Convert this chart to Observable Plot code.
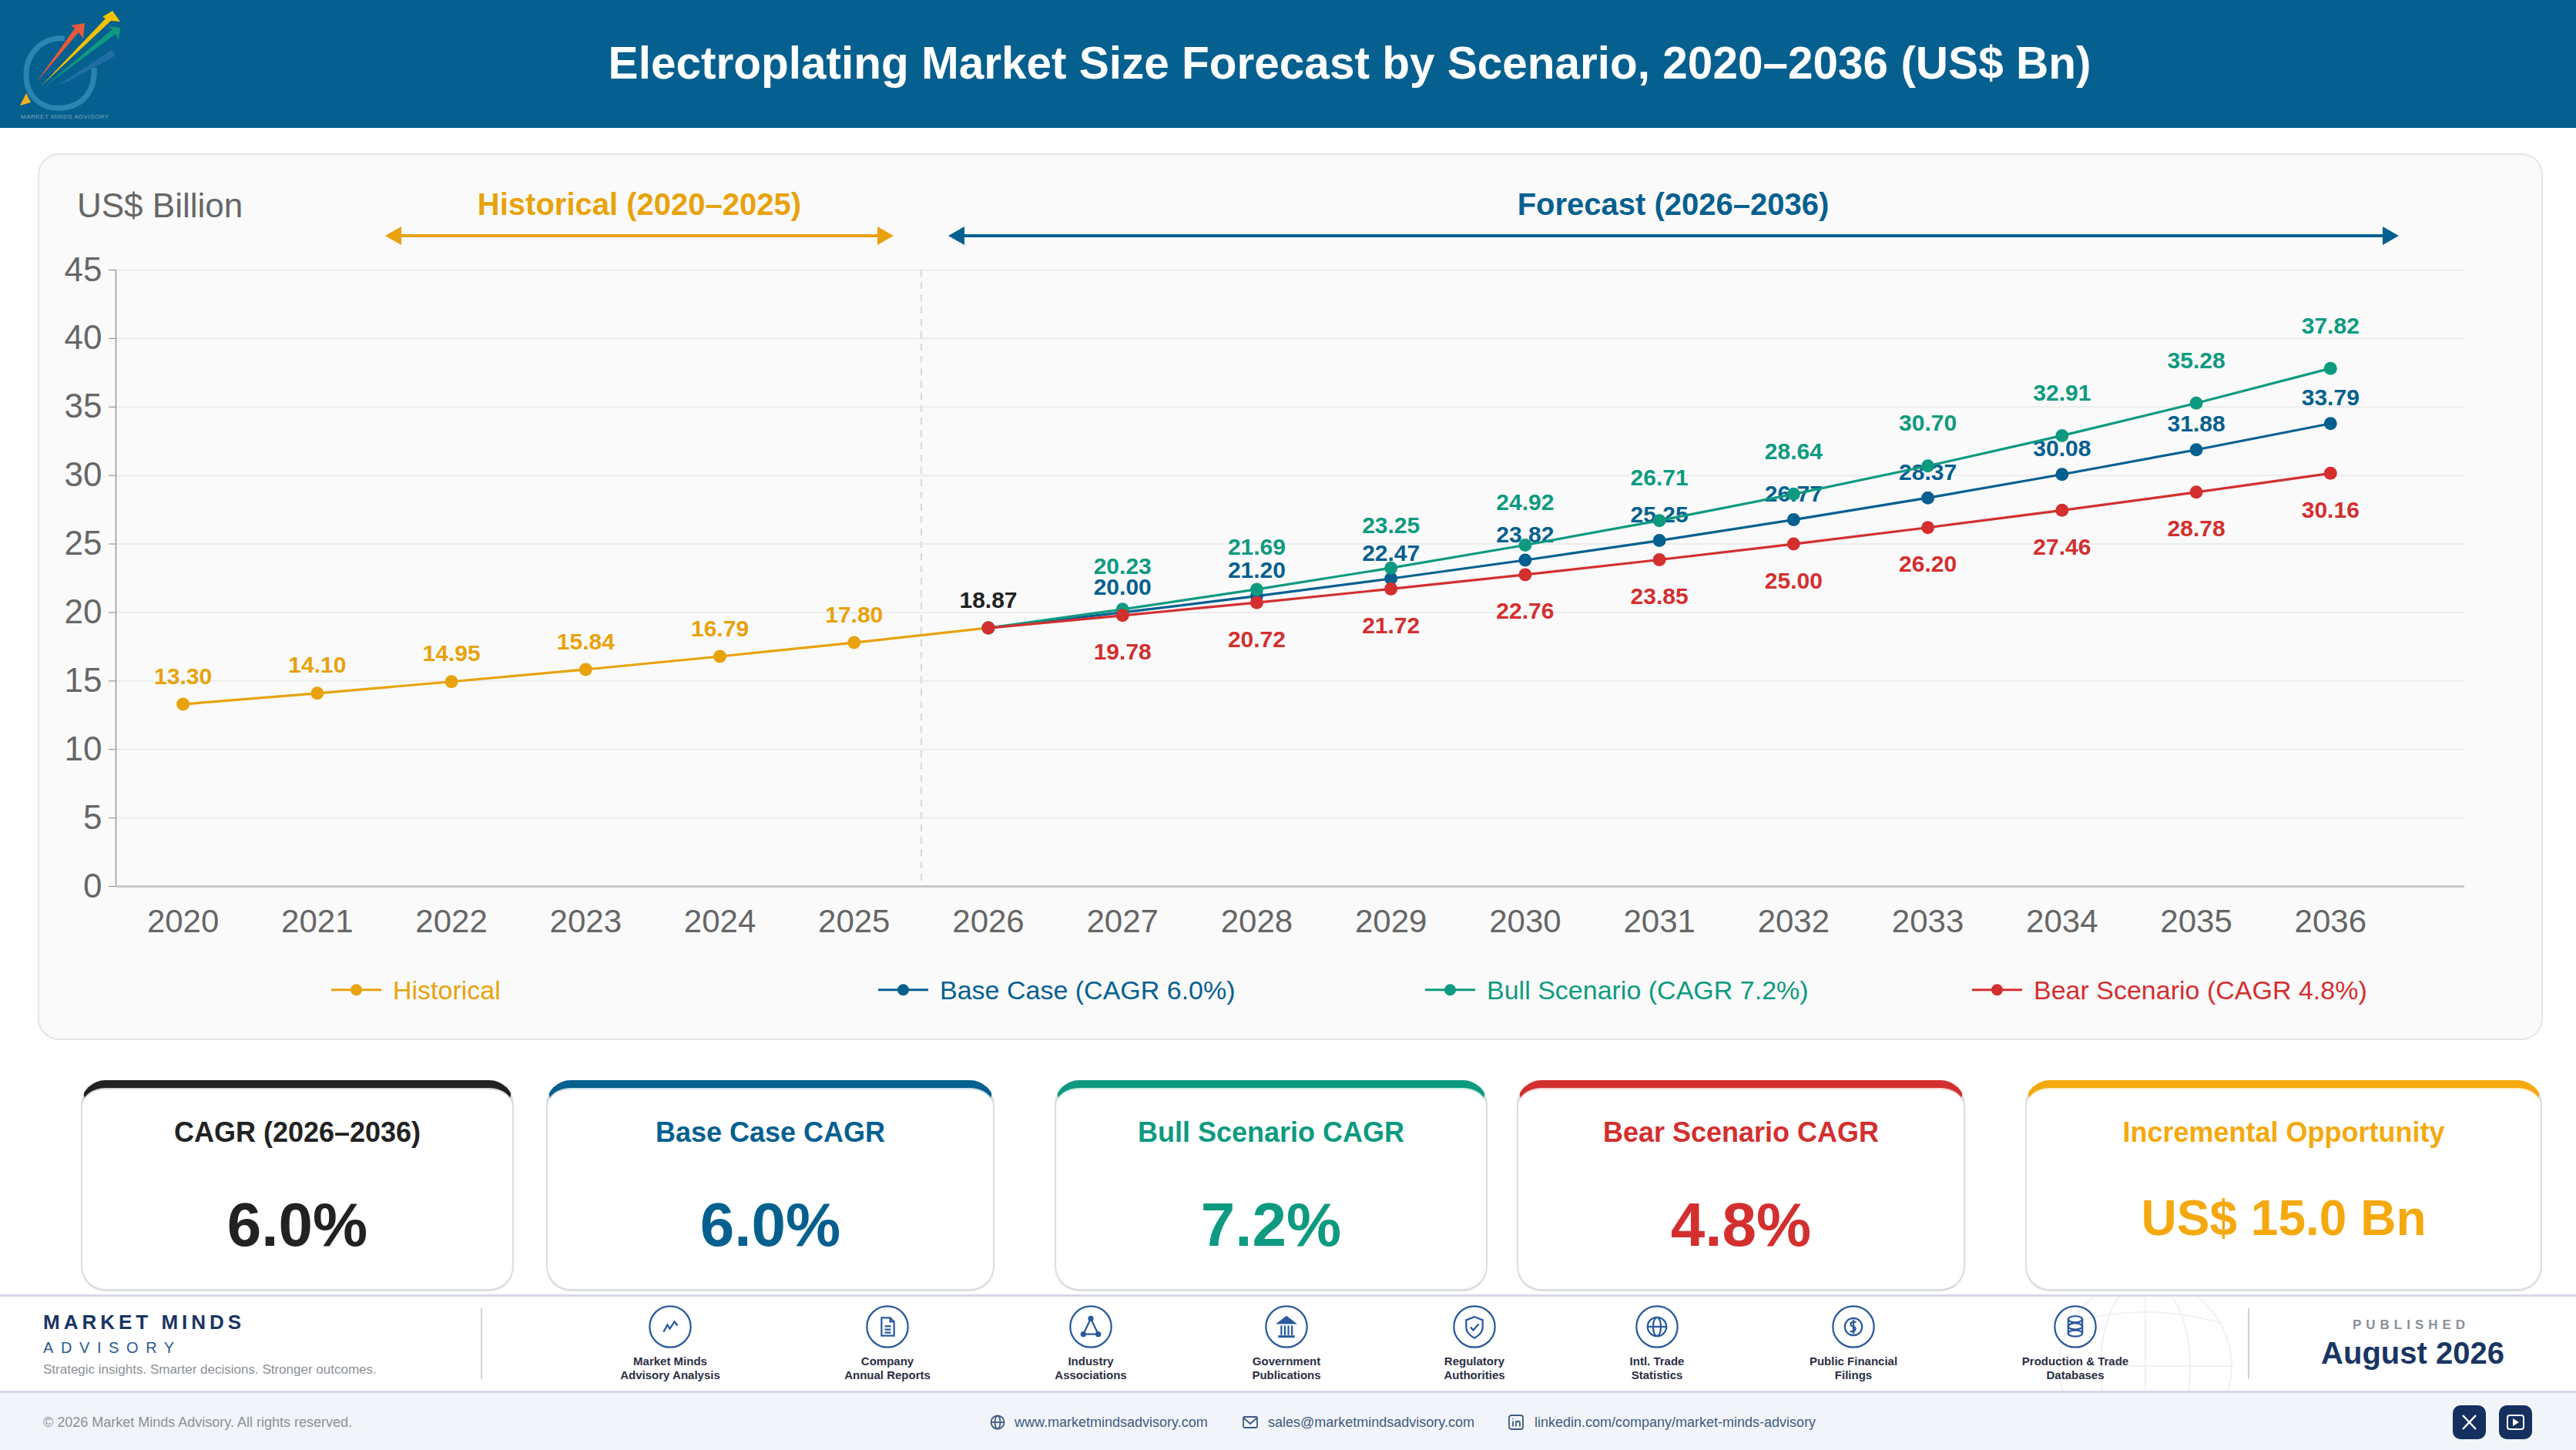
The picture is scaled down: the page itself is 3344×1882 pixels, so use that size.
<!DOCTYPE html>
<html><head><meta charset="utf-8">
<script src="https://cdn.jsdelivr.net/npm/d3@7"></script>
<script src="https://cdn.jsdelivr.net/npm/@observablehq/plot@0.6"></script>
<style>
*{box-sizing:border-box}
html,body{margin:0;padding:0;background:#fff}
body{font-family:"Liberation Sans",Arial,sans-serif}
#page{position:relative;width:3344px;height:1882px;overflow:hidden;background:#fff}
.abs{position:absolute}
.c{transform:translate(-50%,-50%);white-space:nowrap;text-align:center}
.m{transform:translateY(-50%);white-space:nowrap}
.kpi{top:1402px;height:274px;background:#fff;border-radius:32px;border:2px solid #dcdde0;border-top-width:10px;border-bottom-width:3px}
.src{font-weight:700;font-size:15px;line-height:18px;color:#2b2f44;text-align:center;white-space:nowrap;transform:translateX(-50%)}
.ct{font-size:18px;color:#3d5a80}
.leg{font-size:34px;top:1284px}
</style></head><body>
<div id="page"></div>
<script>
const years = [2020,2021,2022,2023,2024,2025,2026,2027,2028,2029,2030,2031,2032,2033,2034,2035,2036];
const historicalYears = [2020,2021,2022,2023,2024,2025,2026];
const historicalValues = [13.30,14.10,14.95,15.84,16.79,17.80,18.87];
const scenarioYears = [2026,2027,2028,2029,2030,2031,2032,2033,2034,2035,2036];
const baseValues = [18.87,20.00,21.20,22.47,23.82,25.25,26.77,28.37,30.08,31.88,33.79];
const bullValues = [18.87,20.23,21.69,23.25,24.92,26.71,28.64,30.70,32.91,35.28,37.82];
const bearValues = [18.87,19.78,20.72,21.72,22.76,23.85,25.00,26.20,27.46,28.78,30.16];
const yTicks = [0,5,10,15,20,25,30,35,40,45];
const colors = {hist:"#e8a20c",base:"#05608f",bull:"#0e9a80",bear:"#d32f2f",anchor:"#222222",gold:"#f4a90f"};
const legendItems = [["Historical",colors.hist,430],["Base Case (CAGR 6.0%)",colors.base,1140],["Bull Scenario (CAGR 7.2%)",colors.bull,1850],["Bear Scenario (CAGR 4.8%)",colors.bear,2560]];
const kpis = [
 ["CAGR (2026–2036)","6.0%",colors.anchor,105,667,80,1590],
 ["Base Case CAGR","6.0%",colors.base,709,1291,80,1590],
 ["Bull Scenario CAGR","7.2%",colors.bull,1369,1931,80,1590],
 ["Bear Scenario CAGR","4.8%",colors.bear,1969,2551,80,1590],
 ["Incremental Opportunity","US$ 15.0 Bn",colors.gold,2629,3300,64,1581]];
const sources = [
 ["Market Minds","Advisory Analysis",870],["Company","Annual Reports",1152],["Industry","Associations",1416],
 ["Government","Publications",1670],["Regulatory","Authorities",1914],["Intl. Trade","Statistics",2151],
 ["Public Financial","Filings",2406],["Production & Trade","Databases",2694]];
const iconPaths = [
 '<polyline points="19,34 24,25 27,30 33,21 37,26"/>',
 '<path d="M20 16h11l5 5v18H20z"/><path d="M31 16v5h5M24 27h8M24 31h8M24 35h8"/>',
 '<path d="M27.5 17L18 37H37z"/><circle cx="27.5" cy="17" r="2.5" fill="#2a5a9a"/><circle cx="18" cy="37" r="2.5" fill="#2a5a9a"/><circle cx="37" cy="37" r="2.5" fill="#2a5a9a"/>',
 '<path d="M17 23L27.5 15L38 23z" fill="#2a5a9a"/><path d="M21 26v12M25.5 26v12M30 26v12M34.500 26v12"/><path d="M17 40h21" stroke-width="3"/>',
 '<path d="M27.500 15L38 19V28C38 35 33 39 27.500 42C22 39 17 35 17 28V19z"/><polyline points="22.500,28 26,32 33,24"/>',
 '<circle cx="27.5" cy="27.5" r="12"/><ellipse cx="27.5" cy="27.5" rx="5" ry="12"/><path d="M15.500 27.500h24"/>',
 '<circle cx="27.500" cy="27.500" r="11"/><path d="M31 21.500h-4c-4 0-4 5 0 5.500c4 .5 4 6 0 6.500h-4M27.500 18.500v18"/>',
 '<ellipse cx="27.500" cy="18" rx="9" ry="4"/><ellipse cx="27.500" cy="27" rx="9" ry="4"/><ellipse cx="27.500" cy="36" rx="9" ry="4"/><path d="M18.500 18v18M36.500 18v18"/>'];
const page = document.getElementById("page");
function add(cls, css, html){const d=document.createElement("div");d.className="abs "+cls;d.style.cssText=css;d.innerHTML=html||"";page.appendChild(d);return d;}

add("","left:0;top:0;width:3344px;height:166px;background:#05608f");
add("c","left:1752px;top:81px;color:#fff;font-weight:700;font-size:58.5px","Electroplating Market Size Forecast by Scenario, 2020–2036 (US$ Bn)");
add("","left:0;top:0;width:170px;height:166px",`<svg width="170" height="166" viewBox="0 0 170 166">
<path d="M84 50C52 48 33 72 34 100C35 126 55 143 82 140C108 137 124 118 122 88" fill="none" stroke="#2a86b0" stroke-width="7"/>
<polygon points="76,110 145,65 150,72 90,105" fill="#1f6fa3"/>
<polygon points="47,107 97,37 92,33 110,30 108,50 102,42" fill="#e8593a"/>
<polygon points="57,113 146,38 140,34 156,36 154,52 150,44" fill="#0e9a80"/>
<polygon points="53,112 137,24 133,22 146,14 156,28 144,27" fill="#f2c200"/>
<polygon points="26,137 34,121 40,133" fill="#f2b21c"/>
<text x="27" y="154" font-family="Liberation Sans" font-size="8" letter-spacing=".5" fill="#7fa0b8">MARKET MINDS ADVISORY</text></svg>`);

add("","left:49px;top:199px;width:3252px;height:1151px;background:#fafafa;border:2.5px solid #e3e4e6;border-radius:28px");
add("m","left:100px;top:267px;font-size:44px;color:#666","US$ Billion");
add("c","left:830px;top:265px;font-weight:700;font-size:40px;color:"+colors.hist,"Historical (2020–2025)");
add("c","left:2172px;top:265px;font-weight:700;font-size:40px;color:"+colors.base,"Forecast (2026–2036)");
function arrow(x1,x2,col){
  add("","left:"+x1+"px;top:294px;width:"+(x2-x1)+"px;height:24px",`<svg width="${x2-x1}" height="24" style="display:block"><path d="M0 12L21 0V10H${x2-x1-21}V0L${x2-x1} 12L${x2-x1-21} 24V14H21V24z" fill="${col}"/></svg>`);
}
arrow(500,1160,colors.hist); arrow(1231,3114,colors.base);

const rows = (xs,vs)=>xs.map((year,i)=>({year,value:vs[i]}));
const fmt = d=>d.value.toFixed(2);
const hist = rows(historicalYears,historicalValues);
const histLabeled = hist.slice(0,6), anchor = hist.slice(6);
const base = rows(scenarioYears,baseValues), bull = rows(scenarioYears,bullValues), bear = rows(scenarioYears,bearValues);
const labelFont = {fontSize:30,fontWeight:700,stroke:"none"};
function series(data,col,dy,labelled=data.slice(1)){
  return [
    Plot.line(data,{x:"year",y:"value",stroke:col,strokeWidth:3.2}),
    Plot.dot(data,{x:"year",y:"value",fill:col,r:8.5,stroke:"none"}),
    Plot.text(labelled,{x:"year",y:"value",text:fmt,fill:col,dy,...labelFont})
  ];
}
const chart = Plot.plot({
  width:3344,height:1150,
  marginTop:151,marginBottom:199,marginLeft:150,marginRight:145,
  x:{domain:[2019.5,2037],type:"linear"},
  y:{domain:[0,45]},
  style:{background:"transparent",position:"absolute",left:"0",top:"199px",fontFamily:"Liberation Sans",overflow:"visible"},
  marks:[
    Plot.ruleY(yTicks.slice(1),{stroke:"#ececec",strokeWidth:2}),
    Plot.ruleX([2025.5],{stroke:"#d9d9d9",strokeWidth:2,strokeDasharray:"9,7"}),
    Plot.ruleX([2019.5],{stroke:"#999",strokeWidth:1.5}),
    Plot.ruleY([0],{stroke:"#c8c8c8",strokeWidth:3}),
    Plot.axisY({ticks:yTicks,tickSize:9,tickPadding:9,fontSize:44,color:"#666",stroke:"#888",label:null,fill:"#666",marginLeft:150}),
    Plot.axisX({ticks:years,tickSize:0,tickPadding:30,fontSize:42,fill:"#666",label:null,tickFormat:d=>String(d)}),
    ...series(hist,colors.hist,-36,histLabeled),
    Plot.text(anchor,{x:"year",y:"value",text:fmt,fill:colors.anchor,dy:-36,...labelFont}),
    ...series(base,colors.base,-33),
    ...series(bull,colors.bull,-55),
    ...series(bear,colors.bear,48)
  ]
});
page.appendChild(chart);

legendItems.forEach(([t,col,x])=>{
  add("m leg","left:"+x+"px;color:"+col,`<span style="display:inline-flex;align-items:center"><svg width="65" height="20" style="margin-right:15px"><line x1="0" x2="65" y1="10" y2="10" stroke="${col}" stroke-width="3.2"/><circle cx="32.500" cy="10" r="7.5" fill="${col}"/></svg>${t}</span>`);
});

kpis.forEach(([t,v,col,x1,x2,fs,vy])=>{
  add("kpi","left:"+x1+"px;width:"+(x2-x1)+"px;border-top-color:"+col+";box-shadow:inset 0 2px 0 "+col+"33");
  add("c","left:"+((x1+x2)/2)+"px;top:1470px;font-weight:700;font-size:36px;color:"+col,t);
  add("c","left:"+((x1+x2)/2)+"px;top:"+vy+"px;font-weight:700;font-size:"+fs+"px;color:"+col,v);
});

add("","left:0;top:1680px;width:3344px;height:128px;background:#fff;border-top:3px solid #d5d8e6;border-bottom:3px solid #d5d8e6");
add("","left:0;top:1808px;width:3344px;height:74px;background:#f1f4f9");
add("","left:2660px;top:1683px;width:250px;height:122px;overflow:hidden",`<svg width="250" height="122" viewBox="0 0 250 122" fill="none" stroke="#eff1f5" stroke-width="2"><circle cx="125" cy="90" r="112"/><ellipse cx="125" cy="90" rx="58" ry="112"/><path d="M125 -22v224M13 90h224"/><path d="M28 34q97 -28 194 0"/></svg>`);
add("m","left:56px;top:1716px;font-weight:700;font-size:26px;letter-spacing:5px;color:#1a3563","MARKET MINDS");
add("m","left:56px;top:1749px;font-size:20px;letter-spacing:9.6px;color:#2b5c8f","ADVISORY");
add("m","left:56px;top:1778px;font-size:17px;color:#8a8f98","Strategic insights. Smarter decisions. Stronger outcomes.");
add("","left:624px;top:1698px;width:2px;height:92px;background:#cfd2da");
add("","left:2918px;top:1698px;width:2px;height:92px;background:#cfd2da");
sources.forEach(([a,b,x],i)=>{
  add("","left:"+(x-28)+"px;top:1694px;width:56px;height:56px",`<svg width="56" height="56" viewBox="0 0 55 55" fill="none" stroke="#2a5a9a" stroke-width="2.200"><circle cx="27.500" cy="27.500" r="26.200"/>${iconPaths[i]}</svg>`);
  add("src","left:"+x+"px;top:1758px",(a+"<br>"+b).replace("&","&amp;"));
});
add("c","left:3130px;top:1720px;font-weight:700;font-size:17px;letter-spacing:6px;color:#8a8f98","PUBLISHED");
add("c","left:3132px;top:1756px;font-weight:700;font-size:40px;color:#1a3563","August 2026");

add("m","left:56px;top:1846px;font-size:18px;color:#8a919c","© 2026 Market Minds Advisory. All rights reserved.");
const contactIcons = {
 web:'<circle cx="11" cy="11" r="8.500"/><ellipse cx="11" cy="11" rx="3.500" ry="8.500"/><path d="M2.500 11h17"/>',
 mail:'<rect x="2" y="4" width="18" height="14" rx="1.500"/><path d="M2 5l9 8 9-8"/>',
 li:'<rect x="2" y="2" width="18" height="18" rx="3"/><path d="M7 9.500v7M7 6v1M11 16.500v-7M11 12c0-3 5-3 5 0v4.500"/>'};
[["web","www.marketmindsadvisory.com",1284,1317],["mail","sales@marketmindsadvisory.com",1612,1646],["li","linkedin.com/company/market-minds-advisory",1957,1992]].forEach(([k,t,ix,tx])=>{
  add("","left:"+ix+"px;top:1835px;width:22px;height:22px",`<svg width="22" height="22" fill="none" stroke="#3d5a80" stroke-width="1.800">${contactIcons[k]}</svg>`);
  add("m ct","left:"+tx+"px;top:1846px",t);
});
add("","left:3184px;top:1824px;width:43px;height:44px;background:#15305f;border-radius:10px",`<svg width="43" height="44" stroke="#fff" stroke-width="2.500"><path d="M13 13L30 31M30 13L13 31"/></svg>`);
add("","left:3244px;top:1824px;width:43px;height:44px;background:#15305f;border-radius:10px",`<svg width="43" height="44" fill="none" stroke="#fff" stroke-width="2"><rect x="11" y="13" width="21" height="18" rx="3"/><polygon points="18,17 26,22 18,27" fill="#fff" stroke="none"/></svg>`);
</script>
</body></html>
